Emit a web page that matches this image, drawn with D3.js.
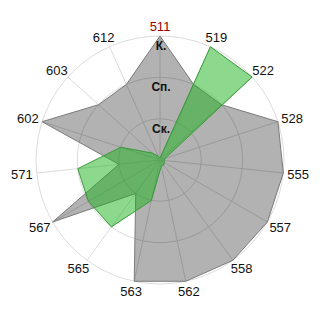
<!DOCTYPE html>
<html>
<head>
<meta charset="utf-8">
<script src="https://cdn.jsdelivr.net/npm/d3@7"></script>
<style>
  body { margin: 0; background: #fff; }
  text { font-family: "Liberation Sans", Arial, sans-serif; }
</style>
</head>
<body>
<div class="container"></div>
<script>
// ----- DATA -----
const categories = ["511", "519", "522", "528", "555", "557", "558", "562", "563", "565", "567", "571", "602", "603", "612"];
const graySeries = [3, 2, 2, 3, 3, 3, 3, 3, 3, 1, 3, 1, 3, 2, 2];
const greenSeries = [0.05, 3, 3, 0.13, 0.1, 0.12, 0.15, 0.15, 1, 2, 2, 2, 1, 0.25, 0.1];
const levelValues = [1, 2, 3];
const levelLabels = ["Ск.", "Сп.", "К."];

const w = 320;
const h = 320;
const cx = 160;
const cy = 160;
const R = 124;

// ----- SCALES -----
const angle = d3.scaleLinear()
  .domain([0, categories.length])
  .range([0, 2 * Math.PI]);

const rScale = d3.scaleLinear()
  .domain([0, 3])
  .range([0, R]);

// ----- SVG -----
const svg = d3.select(".container")
  .append("svg")
  .attr("width", w)
  .attr("height", h);

const g = svg.append("g")
  .attr("transform", "translate(" + cx + "," + cy + ")");

// ----- GRID -----
g.selectAll(".ring")
  .data(levelValues)
  .enter()
  .append("circle")
  .attr("r", d => rScale(d))
  .attr("fill", "none")
  .attr("stroke", "#dcdcdc")
  .attr("stroke-width", 1);

g.selectAll(".spoke")
  .data(categories)
  .enter()
  .append("line")
  .attr("x1", 0)
  .attr("y1", 0)
  .attr("x2", (d, i) => R * Math.sin(angle(i)))
  .attr("y2", (d, i) => -R * Math.cos(angle(i)))
  .attr("stroke", "#dcdcdc")
  .attr("stroke-width", 1);

// ----- SERIES -----
const radar = d3.lineRadial()
  .angle((d, i) => angle(i))
  .radius(d => rScale(d))
  .curve(d3.curveLinearClosed);

g.append("path")
  .datum(graySeries)
  .attr("d", radar)
  .attr("fill", "#000")
  .attr("fill-opacity", 0.3)
  .attr("stroke", "#7a7a7a")
  .attr("stroke-width", 1);

g.append("path")
  .datum(greenSeries)
  .attr("d", radar)
  .attr("fill", "rgb(25,178,25)")
  .attr("fill-opacity", 0.5)
  .attr("stroke", "#3a9a3a")
  .attr("stroke-width", 1);

// ----- LEVEL LABELS -----
g.selectAll(".level")
  .data(levelValues)
  .enter()
  .append("text")
  .attr("x", 1)
  .attr("y", d => -rScale(d) + 14)
  .attr("text-anchor", "middle")
  .style("font-size", "12px")
  .style("font-weight", "bold")
  .attr("fill", "#111")
  .text((d, i) => levelLabels[i]);

// ----- CATEGORY LABELS -----
g.selectAll(".cat")
  .data(categories)
  .enter()
  .append("text")
  .style("font-size", "13px")
  .attr("text-anchor", "middle")
  .attr("dominant-baseline", "central")
  .attr("fill", (d, i) => i === 0 ? "#990000" : "#111")
  .text(d => d)
  .each(function (d, i) {
    const a = angle(i);
    const tw = this.getComputedTextLength();
    const x = (R + 4) * Math.sin(a) + Math.sin(a) * tw / 2;
    const y = -(R + 4) * Math.cos(a) - Math.cos(a) * 6;
    d3.select(this).attr("x", x).attr("y", y);
  });
</script>
</body>
</html>
